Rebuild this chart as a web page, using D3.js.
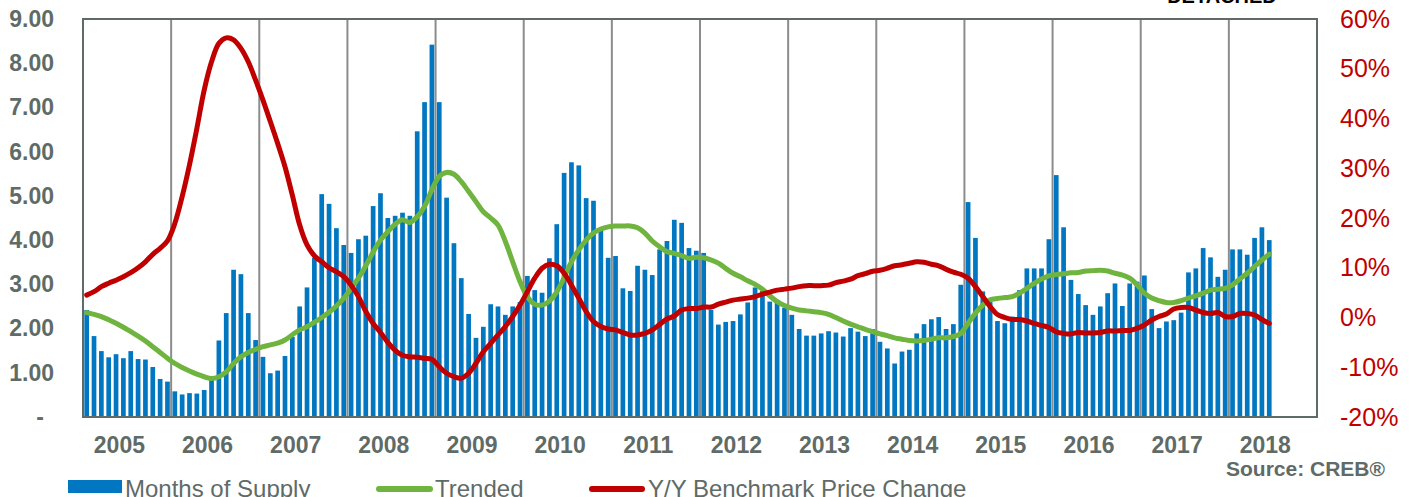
<!DOCTYPE html>
<html>
<head>
<meta charset="utf-8">
<script src="https://cdn.jsdelivr.net/npm/d3@7"></script>
<style>
  body { margin: 0; background: #fff; }
  svg { display: block; font-family: "Liberation Sans", Arial, sans-serif; }
</style>
</head>
<body>
<div id="container"></div>
<script>
// DATA - monthly, Aug 2004 to Jan 2018
const years = ['2005', '2006', '2007', '2008', '2009', '2010', '2011', '2012', '2013', '2014', '2015', '2016', '2017', '2018'];

// months of supply (left axis)
const supply = [
  2.42, 1.83, 1.49, 1.35, 1.42, 1.33, 1.49, 1.31, 1.30, 1.13, 0.86, 0.80,
  0.58, 0.51, 0.54, 0.53, 0.61, 0.85, 1.73, 2.35, 3.33, 3.23, 2.35, 1.74,
  1.36, 0.99, 1.05, 1.38, 1.81, 2.50, 2.93, 3.60, 5.04, 4.82, 4.27, 3.89,
  3.71, 4.02, 4.10, 4.77, 5.06, 4.50, 4.55, 4.62, 4.55, 6.46, 7.12, 8.42,
  7.12, 4.96, 3.93, 3.14, 2.33, 1.79, 2.04, 2.55, 2.50, 2.31, 2.50, 2.60,
  3.19, 2.87, 2.81, 3.59, 4.36, 5.52, 5.76, 5.69, 4.95, 4.89, 4.27, 3.60,
  3.64, 2.91, 2.85, 3.42, 3.33, 3.21, 3.79, 3.98, 4.46, 4.39, 3.82, 3.76,
  3.71, 2.42, 2.09, 2.15, 2.17, 2.32, 2.59, 2.93, 2.85, 2.61, 2.65, 2.47,
  2.31, 1.99, 1.84, 1.84, 1.89, 1.94, 1.91, 1.82, 2.01, 1.93, 1.83, 1.99,
  1.70, 1.55, 1.21, 1.48, 1.52, 1.89, 2.10, 2.21, 2.26, 1.99, 2.10, 2.99,
  4.86, 4.05, 2.84, 2.60, 2.17, 2.12, 2.27, 2.87, 3.36, 3.36, 3.36, 4.02,
  5.47, 4.29, 3.10, 2.78, 2.53, 2.31, 2.50, 2.80, 3.02, 2.51, 3.02, 3.06,
  3.20, 2.44, 2.01, 2.16, 2.19, 2.36, 3.27, 3.36, 3.82, 3.61, 3.17, 3.33,
  3.79, 3.79, 3.67, 4.05, 4.29, 4.00
];

// trended months of supply (left axis)
const trended = [
  2.36, 2.32, 2.27, 2.20, 2.12, 2.03, 1.93, 1.83, 1.72, 1.59, 1.46, 1.33,
  1.21, 1.12, 1.04, 0.97, 0.91, 0.87, 0.91, 1.02, 1.21, 1.36, 1.46, 1.53,
  1.59, 1.63, 1.67, 1.74, 1.86, 1.97, 2.04, 2.14, 2.25, 2.37, 2.51, 2.68,
  2.91, 3.14, 3.42, 3.73, 4.00, 4.19, 4.36, 4.46, 4.40, 4.53, 4.76, 5.14,
  5.44, 5.53, 5.49, 5.32, 5.10, 4.87, 4.64, 4.50, 4.34, 3.97, 3.51, 3.06,
  2.72, 2.55, 2.53, 2.62, 2.83, 3.15, 3.51, 3.78, 4.00, 4.16, 4.25, 4.30,
  4.32, 4.32, 4.32, 4.28, 4.16, 3.98, 3.85, 3.74, 3.70, 3.65, 3.59, 3.61,
  3.60, 3.55, 3.48, 3.36, 3.25, 3.17, 3.08, 3.00, 2.89, 2.74, 2.61, 2.52,
  2.46, 2.42, 2.40, 2.38, 2.36, 2.32, 2.25, 2.17, 2.10, 2.04, 1.98, 1.93,
  1.88, 1.84, 1.79, 1.76, 1.73, 1.72, 1.73, 1.76, 1.79, 1.79, 1.82, 1.89,
  2.12, 2.35, 2.53, 2.65, 2.68, 2.70, 2.72, 2.80, 2.91, 3.02, 3.12, 3.19,
  3.22, 3.24, 3.26, 3.27, 3.30, 3.31, 3.32, 3.30, 3.25, 3.21, 3.14, 2.99,
  2.80, 2.69, 2.63, 2.59, 2.59, 2.63, 2.69, 2.74, 2.80, 2.87, 2.89, 2.91,
  2.99, 3.12, 3.25, 3.40, 3.55, 3.68
];

// y/y benchmark price change, % (right axis)
const priceChange = [
  4.5, 5.2, 6.2, 6.9, 7.5, 8.2, 9.0, 10.0, 11.2, 12.7, 13.9, 15.4,
  18.9, 24.3, 30.7, 38.0, 45.7, 51.4, 55.1, 56.2, 55.8, 54.1, 51.4, 47.7,
  43.7, 39.4, 35.0, 30.3, 24.6, 18.6, 14.6, 12.4, 11.2, 10.0, 9.2, 8.2,
  6.5, 4.2, 1.2, -1.2, -3.0, -5.0, -6.6, -7.6, -7.9, -8.0, -8.2, -8.4,
  -9.9, -11.2, -11.9, -12.2, -11.2, -9.2, -6.9, -5.2, -3.5, -1.8, 0.2, 2.5,
  5.2, 7.9, 9.9, 10.7, 10.4, 8.9, 6.5, 3.9, 1.2, -0.8, -1.8, -2.3,
  -2.5, -3.0, -3.5, -3.5, -3.2, -2.5, -1.4, -0.3, 0.3, 1.5, 1.8, 1.8,
  2.1, 2.1, 2.7, 3.1, 3.5, 3.7, 3.9, 4.2, 4.7, 5.1, 5.5, 5.7,
  5.9, 6.2, 6.4, 6.4, 6.4, 6.5, 7.0, 7.3, 7.7, 8.4, 8.8, 9.3,
  9.5, 9.9, 10.4, 10.6, 10.9, 11.2, 11.1, 10.7, 10.4, 9.7, 9.1, 8.7,
  7.9, 6.2, 4.2, 2.2, 0.6, 0.0, -0.4, -0.4, -0.7, -1.2, -1.6, -2.0,
  -2.9, -3.2, -3.3, -3.0, -3.1, -3.1, -3.0, -2.7, -2.7, -2.6, -2.6, -2.2,
  -1.5, -0.5, 0.2, 0.7, 1.7, 2.0, 2.0, 1.5, 1.0, 0.8, 1.0, 0.2,
  0.2, 0.8, 0.8, 0.5, -0.4, -1.2
];

const leftTicks = [0, 1, 2, 3, 4, 5, 6, 7, 8, 9];
const rightTicks = [-20, -10, 0, 10, 20, 30, 40, 50, 60];

// LAYOUT
const width = 1415;
const height = 497;
const margin = ({top: 19, right: 98, bottom: 80, left: 83});
const nCategories = 168; // axis spans 14 years (Aug 2004 - Jul 2018)
const firstJan = 5;       // Jan 2005 is the 6th month

const grey = '#5f6b67';
const blue = '#0077c0';
const green = '#6fb43f';
const red = '#c00000';

const x = d3.scaleBand()
  .domain(d3.range(nCategories))
  .range([margin.left, width - margin.right])
  .paddingInner(0.36)
  .paddingOuter(0.18);

const yLeft = d3.scaleLinear([0, 9], [height - margin.bottom, margin.top]);
const yRight = d3.scaleLinear([-20, 60], [height - margin.bottom, margin.top]);

const boundary = k => margin.left + k * x.step();
const cx = i => x(i) + x.bandwidth() / 2;

const svg = d3.select('#container')
  .append('svg')
  .attr('width', width)
  .attr('height', height)
  .attr('viewBox', [0, 0, width, height]);

// vertical gridlines every 12 months
svg.append('g')
  .attr('stroke', '#8c8c8c')
  .attr('stroke-width', 2)
  .selectAll('line')
  .data(d3.range(12, nCategories, 12))
  .join('line')
    .attr('x1', d => boundary(d))
    .attr('x2', d => boundary(d))
    .attr('y1', margin.top)
    .attr('y2', height - margin.bottom);

// bars
svg.append('g')
  .attr('fill', blue)
  .selectAll('rect')
  .data(supply)
  .join('rect')
    .attr('x', (d, i) => x(i))
    .attr('width', x.bandwidth())
    .attr('y', d => yLeft(d))
    .attr('height', d => yLeft(0) - yLeft(d));

// lines
const trendLine = d3.line()
  .x((d, i) => cx(i))
  .y(d => yLeft(d))
  .curve(d3.curveCatmullRom.alpha(0.5));

const priceLine = d3.line()
  .x((d, i) => cx(i))
  .y(d => yRight(d))
  .curve(d3.curveCatmullRom.alpha(0.5));

svg.append('path')
  .datum(trended)
  .attr('fill', 'none')
  .attr('stroke', green)
  .attr('stroke-width', 5)
  .attr('stroke-linejoin', 'round')
  .attr('stroke-linecap', 'round')
  .attr('d', trendLine);

svg.append('path')
  .datum(priceChange)
  .attr('fill', 'none')
  .attr('stroke', red)
  .attr('stroke-width', 5)
  .attr('stroke-linejoin', 'round')
  .attr('stroke-linecap', 'round')
  .attr('d', priceLine);

// plot frame
svg.append('rect')
  .attr('x', margin.left)
  .attr('y', margin.top)
  .attr('width', width - margin.right - margin.left)
  .attr('height', height - margin.bottom - margin.top)
  .attr('fill', 'none')
  .attr('stroke', grey)
  .attr('stroke-width', 2);

// left axis
const leftAxis = d3.axisLeft(yLeft)
  .tickValues(leftTicks)
  .tickSize(0)
  .tickPadding(29)
  .tickFormat(d => d === 0 ? '-' : d3.format('.2f')(d));

svg.append('g')
  .attr('transform', `translate(${margin.left},0)`)
  .call(leftAxis)
  .call(g => g.select('.domain').remove())
  .call(g => g.selectAll('text')
    .attr('fill', grey)
    .attr('font-family', '"Liberation Sans", Arial, sans-serif')
    .attr('font-size', 23)
    .attr('font-weight', 'bold')
    .attr('dx', d => d === 0 ? -10 : 0));

// right axis
const rightAxis = d3.axisRight(yRight)
  .tickValues(rightTicks)
  .tickSize(0)
  .tickPadding(23)
  .tickFormat(d => d + '%');

svg.append('g')
  .attr('transform', `translate(${width - margin.right},0)`)
  .call(rightAxis)
  .call(g => g.select('.domain').remove())
  .call(g => g.selectAll('text')
    .attr('fill', red)
    .attr('font-family', '"Liberation Sans", Arial, sans-serif')
    .attr('font-size', 25));

// year labels under each January
svg.append('g')
  .attr('fill', grey)
  .attr('font-size', 23)
  .attr('font-weight', 'bold')
  .attr('text-anchor', 'middle')
  .selectAll('text')
  .data(years)
  .join('text')
    .attr('x', (d, j) => cx(firstJan + 12 * j) - 4)
    .attr('y', 453)
    .text(d => d);

// title, cut off at top as in the source image
svg.append('text')
  .attr('x', 1222)
  .attr('y', 3)
  .attr('text-anchor', 'middle')
  .attr('font-size', 20)
  .attr('font-weight', 'bold')
  .attr('fill', '#000')
  .text('DETACHED');

// source
svg.append('text')
  .attr('x', 1385)
  .attr('y', 476)
  .attr('text-anchor', 'end')
  .attr('font-size', 21)
  .attr('font-weight', 'bold')
  .attr('fill', grey)
  .text('Source: CREB®');

// legend
const legend = svg.append('g')
  .attr('font-size', 24)
  .attr('fill', grey);

legend.append('rect')
  .attr('x', 68).attr('y', 480)
  .attr('width', 54).attr('height', 13)
  .attr('fill', blue);
legend.append('text').attr('x', 125).attr('y', 497).text('Months of Supply');

legend.append('line')
  .attr('x1', 379).attr('x2', 430).attr('y1', 489).attr('y2', 489)
  .attr('stroke', green).attr('stroke-width', 6).attr('stroke-linecap', 'round');
legend.append('text').attr('x', 435).attr('y', 497).text('Trended');

legend.append('line')
  .attr('x1', 592).attr('x2', 642).attr('y1', 489).attr('y2', 489)
  .attr('stroke', red).attr('stroke-width', 6).attr('stroke-linecap', 'round');
legend.append('text').attr('x', 648).attr('y', 497).text('Y/Y Benchmark Price Change');
</script>
</body>
</html>
